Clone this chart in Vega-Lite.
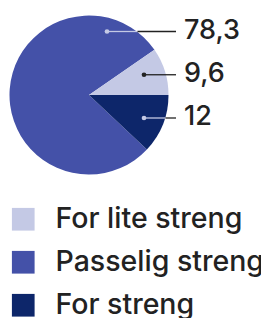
{
  "$schema": "https://vega.github.io/schema/vega-lite/v6.json",
  "width": 178,
  "height": 190,
  "autosize": "none",
  "padding": {"left": 0, "top": 0, "right": 83, "bottom": 128},
  "background": "white",
  "config": {"view": {"stroke": null}, "font": "Inter", "axis": {"disable": true}},
  "data": {"values": [
    {"category": "Passelig streng", "value": 78.3, "label": "78,3"},
    {"category": "For lite streng", "value": 9.6, "label": "9,6"},
    {"category": "For streng", "value": 12, "label": "12"}
  ]},
  "layer": [
    {
      "mark": {"type": "arc", "outerRadius": 79.5, "stroke": null},
      "encoding": {
        "theta": {"field": "value", "type": "quantitative", "stack": true, "scale": {"range": [0.9671, 7.2503]}},
        "order": {"field": "value", "type": "quantitative", "sort": "ascending"},
        "color": {
          "field": "category", "type": "nominal",
          "scale": {"domain": ["For lite streng", "Passelig streng", "For streng"], "range": ["#c4c9e5", "#4451a8", "#0d266a"]},
          "legend": {
            "title": null, "orient": "none", "legendX": 9, "legendY": 205,
            "symbolType": "square", "symbolSize": 515, "symbolStrokeWidth": 0, "symbolOpacity": 1,
            "labelFontSize": 28.5, "labelFont": "Inter", "labelFontWeight": 500, "labelColor": "#222222",
            "labelOffset": 18, "rowPadding": 14, "labelLimit": 300
          }
        }
      }
    },
    {
      "transform": [{"filter": "datum.category === 'Passelig streng'"}],
      "layer": [
        {"mark": {"type": "rule", "color": "#c4c9e5", "strokeWidth": 1.3},
         "encoding": {"x": {"datum": 107}, "x2": {"datum": 137.5}, "y": {"field": "category", "type": "nominal"}}},
        {"mark": {"type": "rule", "color": "#222222", "strokeWidth": 1.3},
         "encoding": {"x": {"datum": 137.5}, "x2": {"datum": 176}, "y": {"field": "category", "type": "nominal"}}},
        {"mark": {"type": "point", "filled": true, "opacity": 1, "color": "#c4c9e5", "size": 22},
         "encoding": {"x": {"datum": 107}, "y": {"field": "category", "type": "nominal"}}}
      ]
    },
    {
      "transform": [{"filter": "datum.category === 'For lite streng'"}],
      "layer": [
        {"mark": {"type": "rule", "color": "#222222", "strokeWidth": 1.3},
         "encoding": {"x": {"datum": 144}, "x2": {"datum": 176}, "y": {"field": "category", "type": "nominal"}}},
        {"mark": {"type": "point", "filled": true, "opacity": 1, "color": "#222222", "size": 22},
         "encoding": {"x": {"datum": 144}, "y": {"field": "category", "type": "nominal"}}}
      ]
    },
    {
      "transform": [{"filter": "datum.category === 'For streng'"}],
      "layer": [
        {"mark": {"type": "rule", "color": "#c4c9e5", "strokeWidth": 1.3},
         "encoding": {"x": {"datum": 144}, "x2": {"datum": 165.5}, "y": {"field": "category", "type": "nominal"}}},
        {"mark": {"type": "rule", "color": "#222222", "strokeWidth": 1.3},
         "encoding": {"x": {"datum": 165.5}, "x2": {"datum": 176}, "y": {"field": "category", "type": "nominal"}}},
        {"mark": {"type": "point", "filled": true, "opacity": 1, "color": "#c4c9e5", "size": 22},
         "encoding": {"x": {"datum": 144}, "y": {"field": "category", "type": "nominal"}}}
      ]
    },
    {
      "mark": {"type": "text", "align": "left", "baseline": "middle", "fontSize": 27, "font": "Inter", "fontWeight": 500, "color": "#222222", "dy": -1},
      "encoding": {
        "x": {"datum": 184, "scale": {"domain": [0, 178], "nice": false, "zero": false}},
        "y": {"field": "category", "type": "nominal", "scale": {"type": "point", "domain": ["Passelig streng", "For lite streng", "For streng"], "range": [31.5, 118], "padding": 0}},
        "text": {"field": "label"}
      }
    }
  ]
}
